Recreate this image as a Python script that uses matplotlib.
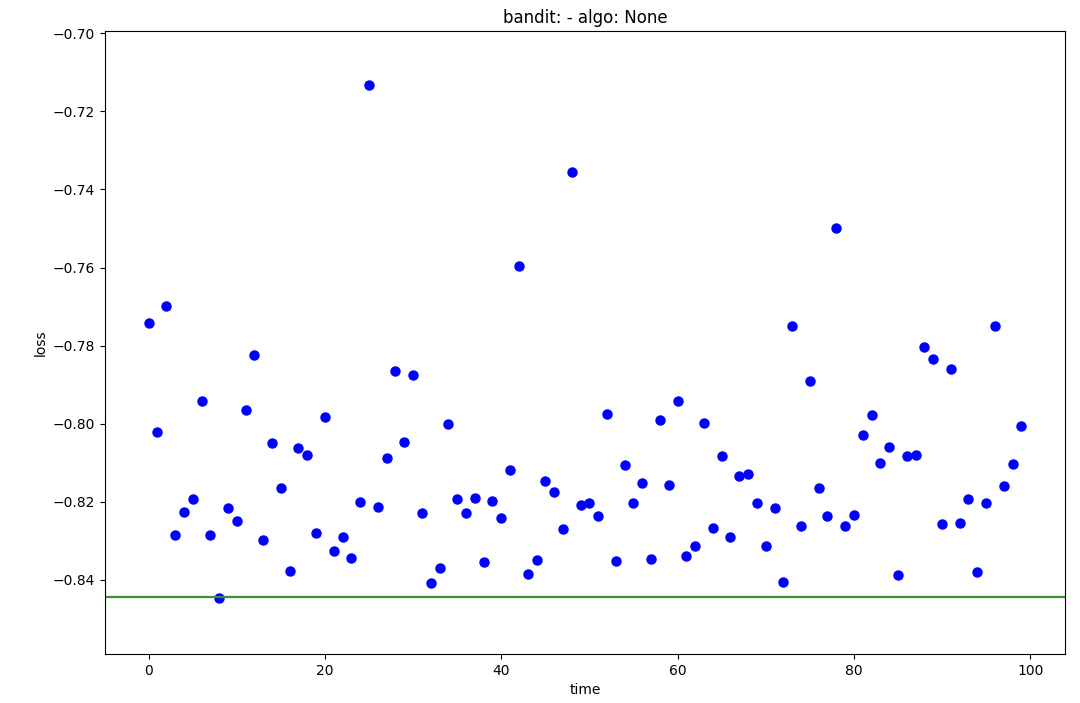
import matplotlib
matplotlib.use("Agg")
import matplotlib.pyplot as plt
import numpy as np

time = list(range(100))
loss = [
    -0.7743, -0.8020, -0.7698, -0.8285, -0.8226, -0.8192, -0.7941, -0.8286, -0.8447, -0.8217,
    -0.8248, -0.7964, -0.7824, -0.8299, -0.8050, -0.8164, -0.8377, -0.8062, -0.8080, -0.8281,
    -0.7984, -0.8326, -0.8289, -0.8343, -0.8200, -0.7132, -0.8213, -0.8089, -0.7864, -0.8047,
    -0.7874, -0.8228, -0.8409, -0.8370, -0.8002, -0.8192, -0.8228, -0.8191, -0.8355, -0.8197,
    -0.8241, -0.8118, -0.7596, -0.8386, -0.8350, -0.8148, -0.8176, -0.8271, -0.7355, -0.8209,
    -0.8202, -0.8237, -0.7976, -0.8353, -0.8106, -0.8203, -0.8152, -0.8346, -0.7991, -0.8156,
    -0.7942, -0.8340, -0.8314, -0.7999, -0.8266, -0.8083, -0.8289, -0.8135, -0.8128, -0.8202,
    -0.8313, -0.8216, -0.8405, -0.7750, -0.8262, -0.7890, -0.8165, -0.8237, -0.7499, -0.8262,
    -0.8234, -0.8029, -0.7979, -0.8100, -0.8059, -0.8387, -0.8084, -0.8081, -0.7803, -0.7834,
    -0.8256, -0.7859, -0.8254, -0.8192, -0.8380, -0.8203, -0.7750, -0.8160, -0.8104, -0.8005,
]
best_loss = -0.8445

fig = plt.figure(figsize=(10.8, 7.03), dpi=100)
ax = fig.add_axes([105/1080, 1 - 654/703, 960/1080, 623/703])
ax.plot(time, loss, 'o', color='#0000ff', markersize=6.5)
ax.axhline(best_loss, color='#3f8f2f', lw=1.6)
ax.set_ylim(-0.859, -0.6994)
ax.set_yticks(np.arange(-0.84, -0.699, 0.02))
ax.set_xticks([0, 20, 40, 60, 80, 100])
ax.set_xlabel('time')
ax.set_ylabel('loss')
ax.set_title('bandit: - algo: None')
fig.savefig('out.png', dpi=100)
